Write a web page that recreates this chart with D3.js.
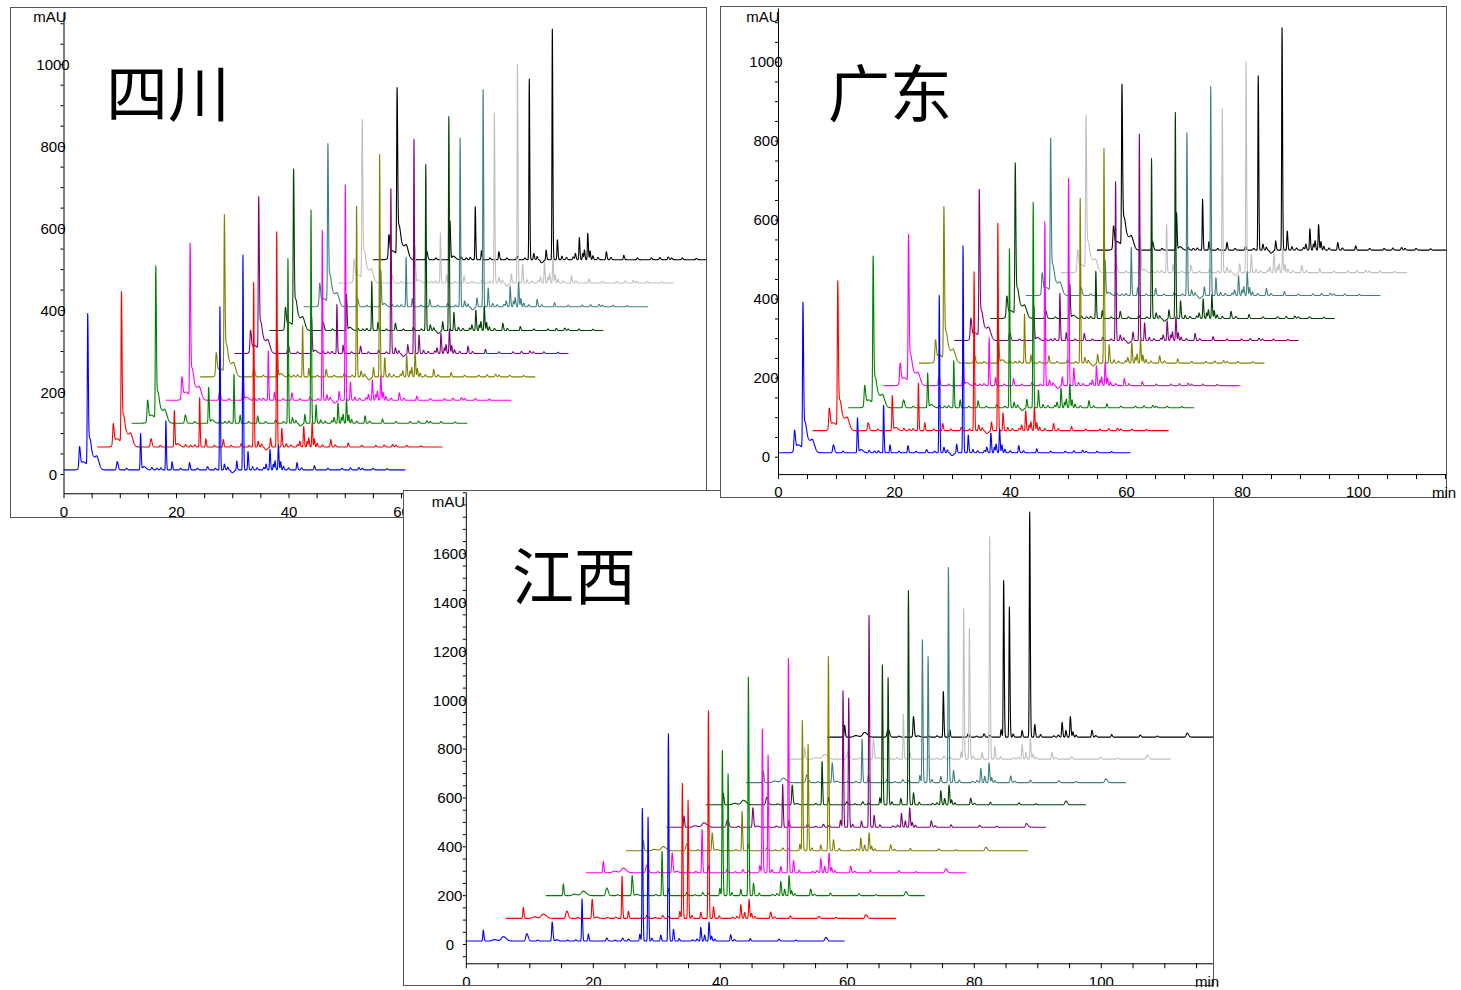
<!DOCTYPE html>
<html>
<head>
<meta charset="utf-8">
<script src="https://cdn.jsdelivr.net/npm/d3@7"></script>
<style>
  body { margin: 0; background: #fff; }
  svg { display: block; }
</style>
</head>
<body>
<svg id="chart" width="1461" height="990"></svg>
<script>
// ten runs per region, front (blue) to back (black)
const runColors = ['#0000ff', '#ff0000', '#008000', '#ff00ff', '#808000', '#800080', '#004000', '#408080', '#c0c0c0', '#000000'];

// ---- Sichuan / Guangdong runs (both plots show the same ten traces) ----
const sgStart = [0, 6.0, 12.1, 18.2, 24.3, 30.4, 36.6, 42.7, 48.8, 55.0];   // min, where each run is drawn from
const sgBase = [10, 66, 124, 180, 237, 294, 350, 408, 466, 523];            // mAU, baseline of each run
const sgLength = [60.8, 61.4, 59.7, 61.4, 59.6, 59.4, 59.4, 61.2, 59.7, 62];  // min
// the three large peaks, one height per run
const sgMainTime = [4.3, 27.8, 31.9];
const sgMainWidth = [0.07, 0.06, 0.06];
const sgSolvent = [356, 354, 359, 358, 370, 358, 369, 373, 373, 393];
const sgPeak278 = [398, 402, 402, 415, 417, 402, 405, 412, 415, 441];
const sgPeak319 = [524, 525, 520, 525, 543, 523, 522, 530, 534, 563];
// smaller peaks of the blue run (time in run, height above baseline, width)
const sgPeakTime = [2.85, 3.5, 4.65, 5.4, 6.0, 9.55, 11.2, 13.7, 14.3, 15.7, 16.6, 17.3, 18.2, 19.3, 20.8, 22.4, 23.8, 25.6, 27.0,
  28.6, 29.2, 30.0, 30.8, 32.8, 33.6, 34.4, 35.6, 36.0, 36.7, 37.3, 37.6, 38.2, 38.6, 39.1, 40.0, 41.5, 42.3, 44.6, 47.0, 49.5,
  51.0, 52.5, 53.1, 55.0, 57.5];
const sgPeakHeight = [50, 20, 70, 28, 18, 20, 4, 88, 8, 6, 4, 5, 120, 20, 4, 18, 4, 8, 4,
  14, 7, -7, 22, 45, 8, 5, 6, 14, 50, 14, 22, 60, 20, 9, 5, 18, 5, 10, 4, 4,
  5, 6, 4, 4, 3];
const sgPeakWidth = [0.1, 0.45, 0.2, 0.35, 0.25, 0.12, 0.1, 0.07, 0.25, 0.1, 0.1, 0.1, 0.06, 0.07, 0.1, 0.08, 0.1, 0.1, 0.1,
  0.08, 0.08, 0.2, 0.07, 0.07, 0.08, 0.1, 0.1, 0.08, 0.07, 0.07, 0.07, 0.07, 0.07, 0.08, 0.1, 0.08, 0.1, 0.08, 0.1, 0.1,
  0.1, 0.1, 0.1, 0.1, 0.1];

// ---- Jiangxi runs ----
const jxStart = [0, 6.3, 12.6, 18.9, 25.2, 31.6, 37.8, 44.1, 50.6, 56.9];
const jxBase = [12, 105, 198, 292, 382, 478, 570, 661, 757, 847];
const jxLength = [59.7, 61.5, 59.7, 59.9, 63.4, 59.8, 59.9, 59.9, 60.4, 62];
const jxMainTime = [27.8, 28.7, 31.9];
const jxMainWidth = [0.06, 0.06, 0.06];
const jxPeak278 = [544, 553, 594, 588, 533, 559, 573, 585, 616, 641];
const jxPeak287 = [507, 485, 499, 483, 436, 529, 521, 516, 537, 533];
const jxPeak319 = [849, 850, 895, 879, 795, 868, 877, 881, 912, 922];
const jxPeakTime = [2.75, 4.5, 5.9, 9.6, 11.3, 13.6, 14.3, 16.0, 17.3, 18.3, 19.3, 22.2, 23.5, 24.7, 25.6, 27.4,
  29.3, 30.7, 32.7, 33.6, 35.7, 36.4, 37.0, 37.6, 38.3, 38.7, 39.2, 41.7, 42.3, 44.8, 49.3, 52.0, 56.7];
const jxPeakHeight = [45, 6, 18, 30, 4, 78, 5, 4, 5, 172, 29, 12, 4, 12, 8, 28,
  12, 25, 48, 10, 5, 8, 56, 25, 78, 20, 8, 26, 6, 10, 8, 4, 15];
const jxPeakWidth = [0.07, 0.3, 0.3, 0.15, 0.1, 0.08, 0.2, 0.1, 0.1, 0.06, 0.07, 0.1, 0.1, 0.1, 0.1, 0.07,
  0.08, 0.07, 0.07, 0.08, 0.1, 0.1, 0.07, 0.07, 0.07, 0.07, 0.08, 0.08, 0.1, 0.08, 0.1, 0.1, 0.15];

const sgRuns = {
  start: sgStart, base: sgBase, length: sgLength,
  mainTime: sgMainTime, mainWidth: sgMainWidth, mainHeight: [sgSolvent, sgPeak278, sgPeak319],
  time: sgPeakTime, height: sgPeakHeight, width: sgPeakWidth
};
const jxRuns = {
  start: jxStart, base: jxBase, length: jxLength,
  mainTime: jxMainTime, mainWidth: jxMainWidth, mainHeight: [jxPeak278, jxPeak287, jxPeak319],
  time: jxPeakTime, height: jxPeakHeight, width: jxPeakWidth
};

// layout of the three plots, drawn in this order (later ones cover earlier ones)
const panels = [
  { title: '四川', runs: sgRuns, frame: [10, 7, 696, 510],
    xRef: [0, 40], xPx: [63.5, 288.5], xMax: 114.5,
    yRef: [0, 1000], yPx: [474, 64.2], yMin: -47, yMax: 1127, yLabelMax: 1000,
    yLabelDx: -10.5, unitPos: [50, 17], titlePos: [106, 117] },
  { title: '江西', runs: jxRuns, frame: [403, 490, 810, 495],
    xRef: [0, 100], xPx: [465.8, 1100.8], xMax: 117.8,
    yRef: [0, 1600], yPx: [944, 553.3], yMin: -79, yMax: 1851, yLabelMax: 1600,
    yLabelDx: -16, unitPos: [448.5, 502], titlePos: [512, 600], minPos: [1195, 982] },
  { title: '广东', runs: sgRuns, frame: [720, 6, 726, 491],
    xRef: [0, 100], xPx: [778, 1358], xMax: 115.3,
    yRef: [0, 1000], yPx: [456.7, 61.7], yMin: -44, yMax: 1136, yLabelMax: 1000,
    yLabelDx: -12, unitPos: [763, 17], titlePos: [828, 117], minPos: [1432, 493] }
];

const tailFactor = 1.5;   // peaks fall off slower than they rise

function runPoints(runs, i) {
  const scale = runs.mainHeight[2][i] / runs.mainHeight[2][0];
  const peaks = runs.time.map((t, k) => ({ t: t, h: runs.height[k] * scale, w: runs.width[k] }))
    .concat(runs.mainTime.map((t, k) => ({ t: t, h: runs.mainHeight[k][i], w: runs.mainWidth[k] })));
  const len = runs.length[i];
  const times = d3.range(0, len, 0.025).concat(peaks.map(p => p.t)).filter(t => t <= len).sort(d3.ascending);
  return times.map(t => {
    let v = 0;
    peaks.forEach(p => {
      const s = t < p.t ? p.w : p.w * tailFactor;
      const z = (t - p.t) / s;
      if (Math.abs(z) < 8) v += p.h * Math.exp(-0.5 * z * z);
    });
    return [runs.start[i] + t, runs.base[i] + v];
  });
}

const svg = d3.select('#chart');

panels.forEach((p, k) => {
  const g = svg.append('g');
  const [fx, fy, fw, fh] = p.frame;

  g.append('rect')
    .attr('x', fx + 0.5).attr('y', fy + 0.5)
    .attr('width', fw).attr('height', fh)
    .attr('fill', '#fff').attr('stroke', '#555').attr('stroke-width', 1);

  const xr = d3.scaleLinear().domain(p.xRef).range(p.xPx);
  const yr = d3.scaleLinear().domain(p.yRef).range(p.yPx);
  const x = d3.scaleLinear().domain([0, p.xMax]).range([xr(0), xr(p.xMax)]);
  const y = d3.scaleLinear().domain([p.yMin, p.yMax]).range([yr(p.yMin), yr(p.yMax)]);

  g.append('clipPath').attr('id', 'clip' + k)
    .append('rect').attr('x', fx + 1).attr('y', fy + 1).attr('width', fw - 1).attr('height', fh - 1);
  const body = g.append('g').attr('clip-path', 'url(#clip' + k + ')');

  // axes
  const yAxis = d3.axisLeft(y)
    .tickValues(d3.range(Math.ceil(p.yMin / 50) * 50, p.yMax, 50))
    .tickSize(3).tickSizeOuter(0)
    .tickFormat(v => (v % 200 === 0 && v <= p.yLabelMax) ? v : '');
  const xAxis = d3.axisBottom(x)
    .tickValues(d3.range(0, p.xMax, 5))
    .tickSize(5).tickSizeOuter(0)
    .tickFormat(v => v % 20 === 0 ? v : '');

  const ya = body.append('g').attr('transform', `translate(${x(0)},0)`).call(yAxis);
  ya.selectAll('text').attr('x', p.yLabelDx).attr('text-anchor', 'middle').attr('dy', '0.35em');
  const xa = body.append('g').attr('transform', `translate(0,${y(p.yMin)})`).call(xAxis);
  xa.selectAll('text').attr('y', 18).attr('dy', '0.35em');
  [ya, xa].forEach(a => {
    a.attr('font-family', '"Liberation Sans", Arial, sans-serif').attr('font-size', 15);
    a.selectAll('path, line').attr('stroke', '#000').attr('stroke-width', 1);
    a.selectAll('text').attr('fill', '#000');
  });

  body.append('text')
    .attr('x', p.unitPos[0]).attr('y', p.unitPos[1]).attr('dy', '0.35em')
    .attr('text-anchor', 'middle')
    .attr('font-family', '"Liberation Sans", Arial, sans-serif').attr('font-size', 15)
    .text('mAU');

  // traces, back run first so the front runs sit on top
  const line = d3.line().x(d => x(d[0])).y(d => y(d[1]));
  d3.range(runColors.length - 1, -1, -1).forEach(i => {
    body.append('path')
      .attr('d', line(runPoints(p.runs, i)))
      .attr('fill', 'none')
      .attr('stroke', runColors[i])
      .attr('stroke-width', 1.1)
      .attr('stroke-linejoin', 'round');
  });

  body.append('text')
    .attr('x', p.titlePos[0]).attr('y', p.titlePos[1])
    .attr('font-family', '"Noto Sans CJK SC", sans-serif').attr('font-size', 62)
    .attr('fill', '#000')
    .text(p.title);

  if (p.minPos) {
    g.append('text')
      .attr('x', p.minPos[0]).attr('y', p.minPos[1]).attr('dy', '0.35em')
      .attr('font-family', '"Liberation Sans", Arial, sans-serif').attr('font-size', 15)
      .text('min');
  }
});
</script>
</body>
</html>
